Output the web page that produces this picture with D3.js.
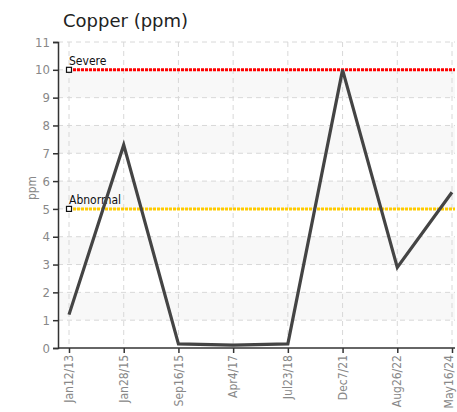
<!DOCTYPE html>
<html>
<head>
<meta charset="utf-8">
<script src="https://cdn.jsdelivr.net/npm/d3@7"></script>
<style>
  body { margin: 0; background: #fff; }
  .narrow { font-family: "Liberation Sans Narrow", "DejaVu Sans Condensed", sans-serif; font-stretch: condensed; }
</style>
</head>
<body>
<div id="chart"></div>
<script>
// data
let dates = ['Jan12/13', 'Jan28/15', 'Sep16/15', 'Apr4/17', 'Jul23/18', 'Dec7/21', 'Aug26/22', 'May16/24'];
let copper = [1.2, 7.3, 0.15, 0.1, 0.15, 10, 2.9, 5.6];
let yTicks = [0, 1, 2, 3, 4, 5, 6, 7, 8, 9, 10, 11];
let limitNames = ['Severe', 'Abnormal'];
let limitValues = [10, 5];
let limitColors = ['#ff0000', '#ffcc00'];

let width = 457, height = 412;
let margin = {top: 42, left: 58, right: 2, bottom: 64};

let svg = d3.select('#chart')
  .append('svg')
  .attr('width', width)
  .attr('height', height);

let xScale = d3.scalePoint()
  .domain(dates)
  .range([69, 452]);

let yScale = d3.scaleLinear()
  .domain([0, 11])
  .range([height - margin.bottom, margin.top]);

// title
svg.append('text')
  .attr('x', 63)
  .attr('y', 27)
  .style('font-family', 'DejaVu Sans, Verdana, sans-serif')
  .style('font-size', '18px')
  .style('fill', '#222')
  .text('Copper (ppm)');

// alternating bands
let bands = d3.range(1, 11, 2);
svg.selectAll('.band')
  .data(bands)
  .enter()
  .append('rect')
    .attr('x', margin.left)
    .attr('width', width - margin.right - margin.left)
    .attr('y', d => yScale(d + 1))
    .attr('height', d => yScale(d) - yScale(d + 1))
    .style('fill', '#f8f8f8');

// grid
svg.selectAll('.hgrid')
  .data(yTicks.slice(1))
  .enter()
  .append('line')
    .attr('x1', margin.left)
    .attr('x2', width - margin.right)
    .attr('y1', d => yScale(d))
    .attr('y2', d => yScale(d))
    .style('stroke', '#d8d8d8')
    .style('stroke-dasharray', '5,4');

svg.selectAll('.vgrid')
  .data(dates)
  .enter()
  .append('line')
    .attr('x1', d => xScale(d))
    .attr('x2', d => xScale(d))
    .attr('y1', yScale(11))
    .attr('y2', yScale(0))
    .style('stroke', '#d8d8d8')
    .style('stroke-dasharray', '5,4');

// limit lines
limitValues.forEach(function(v, i) {
  svg.append('line')
    .attr('x1', xScale(dates[0]))
    .attr('x2', width - margin.right)
    .attr('y1', yScale(v))
    .attr('y2', yScale(v))
    .style('stroke', limitColors[i])
    .style('stroke-width', 3)
    .style('stroke-dasharray', '3,1');
  svg.append('rect')
    .attr('x', xScale(dates[0]) - 2.5)
    .attr('y', yScale(v) - 2.5)
    .attr('width', 5)
    .attr('height', 5)
    .style('fill', '#fff')
    .style('stroke', '#111')
    .style('stroke-width', 1.2);
  svg.append('text')
    .attr('class', 'narrow')
    .attr('x', xScale(dates[0]))
    .attr('y', yScale(v) - 5)
    .style('font-size', '12px')
    .style('fill', '#111')
    .text(limitNames[i]);
});

// the copper line
let slice = d3.line()
  .x((d, i) => xScale(dates[i]))
  .y(d => yScale(d));

svg.append('path')
  .attr('d', slice(copper))
  .style('fill', 'none')
  .style('stroke', '#444')
  .style('stroke-width', 3.2)
  .style('stroke-linejoin', 'miter');

// y axis
let yAxis = svg.append('g')
  .attr('transform', 'translate(' + margin.left + ',0)')
  .call(d3.axisLeft(yScale).tickValues(yTicks).tickSize(5).tickPadding(3));
yAxis.select('.domain').style('stroke', '#333').style('stroke-width', 1.5);
yAxis.selectAll('.tick line').style('stroke', '#333').style('stroke-width', 1.5);
yAxis.selectAll('text')
  .attr('class', 'narrow')
  .style('font-size', '13px')
  .style('fill', '#888');

// x axis
let xAxis = svg.append('g')
  .attr('transform', 'translate(0,' + yScale(0) + ')')
  .call(d3.axisBottom(xScale).tickSize(5).tickSizeOuter(0));
xAxis.select('.domain')
  .attr('d', 'M' + margin.left + ',0H' + (width - margin.right))
  .style('stroke', '#333').style('stroke-width', 1.5);
xAxis.selectAll('.tick line').style('stroke', '#333').style('stroke-width', 1.5);
xAxis.selectAll('text')
  .attr('class', 'narrow')
  .style('font-size', '12px')
  .style('fill', '#888')
  .attr('transform', 'rotate(-90)')
  .attr('x', -7)
  .attr('y', 0)
  .attr('dy', (d, i) => i === dates.length - 1 ? '0.05em' : '0.3em')
  .style('text-anchor', 'end');

// y label
svg.append('text')
  .attr('class', 'narrow')
  .attr('transform', 'translate(36,188) rotate(-90)')
  .style('text-anchor', 'middle')
  .style('font-size', '12px')
  .style('fill', '#888')
  .text('ppm');
</script>
</body>
</html>
